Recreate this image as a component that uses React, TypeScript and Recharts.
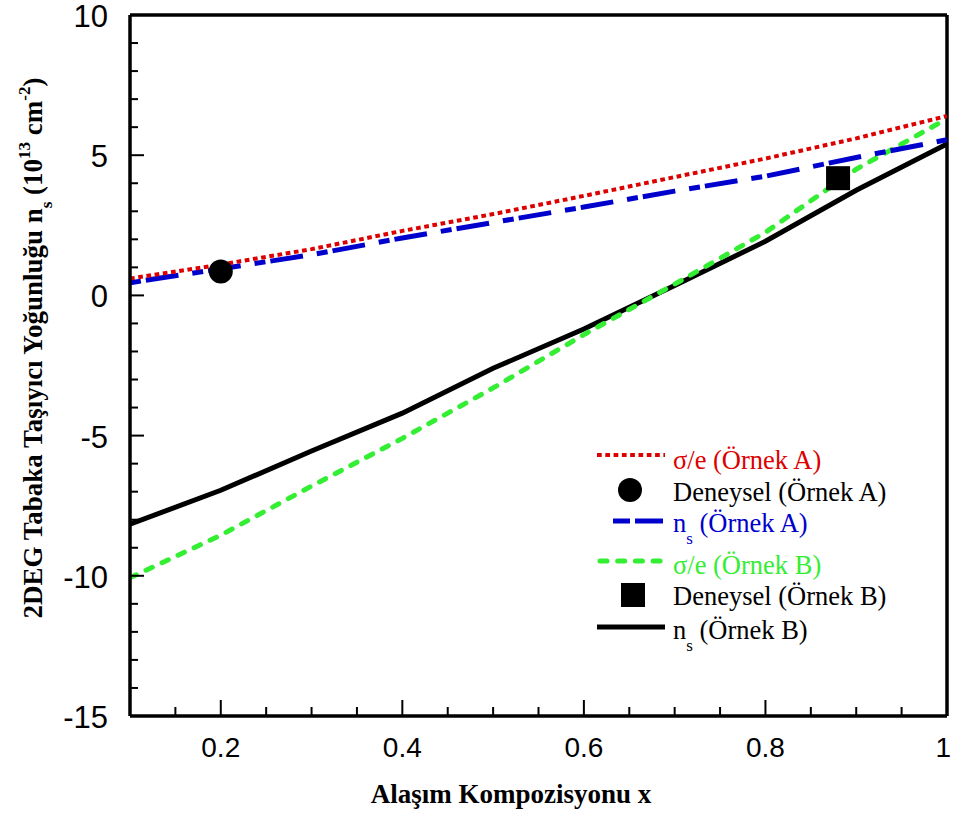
import React from 'react';
import { ComposedChart, Line, Scatter, XAxis, YAxis, Legend, ReferenceLine } from 'recharts';

// values
const xValues = [0.1, 0.2, 0.3, 0.4, 0.5, 0.6, 0.7, 0.8, 0.9, 1.0];
const sigmaA = [0.6, 1.1, 1.65, 2.3, 2.9, 3.55, 4.22, 4.88, 5.6, 6.4];
const nsA = [0.45, 0.95, 1.45, 2.05, 2.6, 3.15, 3.72, 4.25, 4.92, 5.55];
const sigmaB = [-10.07, -8.55, -6.8, -5.1, -3.3, -1.4, 0.4, 2.25, 4.5, 6.3];
const nsB = [-8.16, -6.95, -5.55, -4.2, -2.6, -1.2, 0.35, 1.93, 3.75, 5.4];

const expA = [{ x: 0.2, y: 0.85 }];
const expB = [{ x: 0.88, y: 4.18 }];

const xTicks = [0.15, 0.2, 0.25, 0.3, 0.35, 0.4, 0.45, 0.5, 0.55, 0.6, 0.65, 0.7, 0.75, 0.8, 0.85, 0.9, 0.95, 1];
const xMajor = [0.2, 0.4, 0.6, 0.8, 1];
const yTicks = [-15, -14, -13, -12, -11, -10, -9, -8, -7, -6, -5, -4, -3, -2, -1, 0, 1, 2, 3, 4, 5, 6, 7, 8, 9, 10];
const yMajor = [-15, -10, -5, 0, 5, 10];

const RED = '#dd0000';
const BLUE = '#0000cc';
const GREEN = '#33ee33';

const SERIF = "'Liberation Serif', 'Times New Roman', serif";
const SANS = "'Liberation Sans', Arial, sans-serif";

const toPoints = (ys: number[]) => xValues.map((x, i) => ({ x, y: ys[i] }));

const YTick = (props: any) => {
  const { x, y, payload } = props;
  const major = yMajor.includes(payload.value);
  return (
    <g>
      <line x1={x} y1={y} x2={x + (major ? 14 : 8)} y2={y} stroke="#000" strokeWidth={2} />
      {major && (
        <text x={x - 22} y={y + 12} textAnchor="end" fontSize={31} fontFamily={SANS} fill="#000">
          {payload.value}
        </text>
      )}
    </g>
  );
};

const XTick = (props: any) => {
  const { x, y, payload } = props;
  const major = xMajor.includes(payload.value);
  // the last label sits at the right edge of the figure
  const last = payload.value === 1;
  return (
    <g>
      <line x1={x} y1={y} x2={x} y2={y - (major ? 16 : 9)} stroke="#000" strokeWidth={2} />
      {major && (
        <text
          x={last ? x + 4 : x}
          y={y + 41}
          textAnchor={last ? 'end' : 'middle'}
          fontSize={28}
          fontFamily={SANS}
          fill="#000"
        >
          {String(payload.value)}
        </text>
      )}
    </g>
  );
};

const YTitle = () => (
  <text
    x={42}
    y={348}
    transform="rotate(-90, 42, 348)"
    textAnchor="middle"
    fontFamily={SERIF}
    fontWeight="bold"
    fontSize={27}
    fill="#000"
  >
    2DEG Tabaka Taşıyıcı Yoğunluğu n
    <tspan fontSize={17} dy={10}>s</tspan>
    <tspan dy={-10}>{'  (10'}</tspan>
    <tspan fontSize={17} dy={-12}>13</tspan>
    <tspan dy={12}>{' cm'}</tspan>
    <tspan fontSize={17} dy={-12}>-2</tspan>
    <tspan dy={12}>)</tspan>
  </text>
);

const XTitle = () => (
  <text x={511} y={803} textAnchor="middle" fontFamily={SERIF} fontWeight="bold" fontSize={27} fill="#000">
    Alaşım Kompozisyonu x
  </text>
);

const Sub = ({ children }: { children: React.ReactNode }) => (
  <span style={{ fontSize: 17, position: 'relative', top: 12 }}>{children}</span>
);

const legendRows = [
  { h: 32, color: RED, label: <>σ/e (Örnek A)</>, sample: <line x1={0} y1={11} x2={68} y2={11} stroke={RED} strokeWidth={4} strokeDasharray="4.7 3.6" /> },
  { h: 31, color: '#000', label: <>Deneysel (Örnek A)</>, sample: <circle cx={33} cy={14} r={12} fill="#000" /> },
  { h: 42, color: BLUE, label: <>n<Sub>s</Sub> (Örnek A)</>, sample: <line x1={16} y1={14} x2={66} y2={14} stroke={BLUE} strokeWidth={5} strokeDasharray="17 5 30 10" /> },
  { h: 31, color: GREEN, label: <>σ/e (Örnek B)</>, sample: <line x1={3} y1={12} x2={66} y2={12} stroke={GREEN} strokeWidth={5} strokeLinecap="round" strokeDasharray="7 10.7" /> },
  { h: 34, color: '#000', label: <>Deneysel (Örnek B)</>, sample: <rect x={24} y={3} width={24} height={24} fill="#000" /> },
  { h: 32, color: '#000', label: <>n<Sub>s</Sub> (Örnek B)</>, sample: <line x1={0} y1={13} x2={68} y2={13} stroke="#000" strokeWidth={5} /> },
];

const renderLegend = () => (
  <div style={{ fontFamily: SERIF, fontSize: 26.5 }}>
    {legendRows.map((row, i) => (
      <div key={i} style={{ position: 'relative', height: row.h, lineHeight: '32px', whiteSpace: 'nowrap' }}>
        <svg width={76} height={32} style={{ position: 'absolute', left: 0, top: 0 }}>
          {row.sample}
        </svg>
        <span style={{ position: 'absolute', left: 76, top: 0, color: row.color }}>{row.label}</span>
      </div>
    ))}
  </div>
);

export default function App() {
  return (
    <div style={{ position: 'absolute', left: 0, top: 0, background: '#fff' }}>
      <ComposedChart width={953} height={814} margin={{ top: 15, right: 6, left: 60, bottom: 38 }}>
        <XAxis
          dataKey="x"
          type="number"
          domain={[0.1, 1]}
          ticks={xTicks}
          interval={0}
          tickSize={0}
          tickMargin={0}
          tickLine={false}
          tick={XTick}
          height={60}
          axisLine={{ stroke: '#000', strokeWidth: 3.5 }}
          label={{ content: XTitle }}
          allowDataOverflow
        />
        <YAxis
          type="number"
          domain={[-15, 10]}
          ticks={yTicks}
          interval={0}
          tickSize={0}
          tickMargin={0}
          tickLine={false}
          tick={YTick}
          width={70}
          axisLine={{ stroke: '#000', strokeWidth: 3.5 }}
          label={{ content: YTitle }}
          allowDataOverflow
        />
        <ReferenceLine y={10} stroke="#000" strokeWidth={3.5} />
        <ReferenceLine x={1} stroke="#000" strokeWidth={3.5} />
        <Line data={toPoints(nsB)} dataKey="y" name="ns (Örnek B)" stroke="#000" strokeWidth={5} dot={false} isAnimationActive={false} type="linear" />
        <Line data={toPoints(sigmaB)} dataKey="y" name="σ/e (Örnek B)" stroke={GREEN} strokeWidth={5} strokeLinecap="round" strokeDasharray="7 10.7" dot={false} isAnimationActive={false} type="linear" />
        <Line data={toPoints(nsA)} dataKey="y" name="ns (Örnek A)" stroke={BLUE} strokeWidth={5} strokeDasharray="11 5 33 14" dot={false} isAnimationActive={false} type="linear" />
        <Line data={toPoints(sigmaA)} dataKey="y" name="σ/e (Örnek A)" stroke={RED} strokeWidth={4} strokeDasharray="4.7 3.6" dot={false} isAnimationActive={false} type="linear" />
        <Scatter data={expA} dataKey="y" name="Deneysel (Örnek A)" fill="#000" isAnimationActive={false}
          shape={(p: any) => <circle cx={p.cx} cy={p.cy} r={12} fill="#000" />} />
        <Scatter data={expB} dataKey="y" name="Deneysel (Örnek B)" fill="#000" isAnimationActive={false}
          shape={(p: any) => <rect x={p.cx - 12} y={p.cy - 12} width={24} height={24} fill="#000" />} />
        <Legend
          layout="vertical"
          align="center"
          verticalAlign="middle"
          content={renderLegend}
          wrapperStyle={{ position: 'absolute', left: 597, top: 444, width: 320 }}
        />
      </ComposedChart>
    </div>
  );
}
